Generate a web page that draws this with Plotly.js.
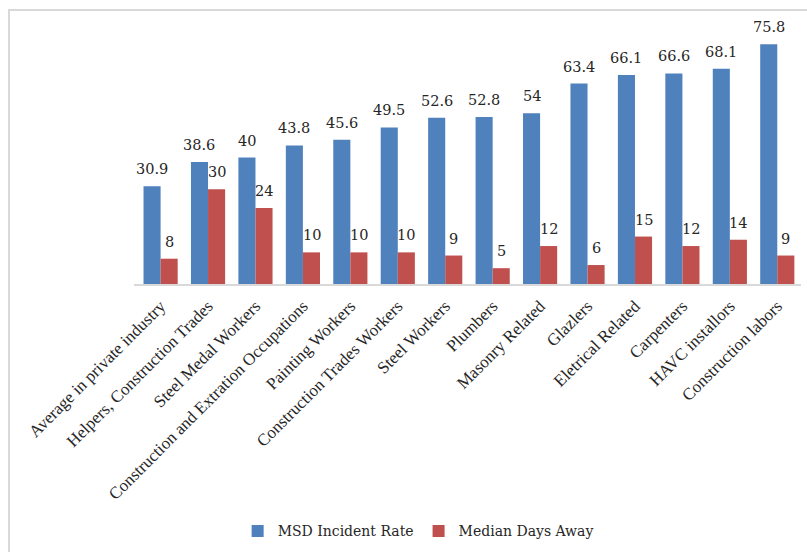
<!DOCTYPE html>
<html>
<head>
<meta charset="utf-8">
<script src="https://cdn.plot.ly/plotly-3.0.1.min.js"></script>
<style>
html,body{margin:0;padding:0;background:#fff;}
#wrap{position:relative;width:807px;height:552px;overflow:hidden;}
#chart{width:807px;height:552px;}
#frame{position:absolute;left:8px;top:9px;width:900px;height:700px;border:2px solid #d9d9d9;pointer-events:none;}
</style>
</head>
<body>
<div id="wrap"><div id="chart"></div><div id="frame"></div></div>
<script>
const categories = [
  "Average in private industry",
  "Helpers, Construction Trades",
  "Steel Medal Workers",
  "Construction and Extration Occupations",
  "Painting Workers",
  "Construction Trades Workers",
  "Steel Workers",
  "Plumbers",
  "Masonry Related",
  "Glazlers",
  "Eletrical Related",
  "Carpenters",
  "HAVC installors",
  "Construction labors"
];
const msdIncidentRate = [30.9, 38.6, 40, 43.8, 45.6, 49.5, 52.6, 52.8, 54, 63.4, 66.1, 66.6, 68.1, 75.8];
const medianDaysAway = [8, 30, 24, 10, 10, 10, 9, 5, 12, 6, 15, 12, 14, 9];
const seriesNames = ["MSD Incident Rate", "Median Days Away"];
const colors = ["#4F81BD", "#C0504D"];

const font = "Liberation Serif";
const labelFont = "DejaVu Serif";
const traces = [
  {type: "bar", name: seriesNames[0], x: categories, y: msdIncidentRate, marker: {color: colors[0]}},
  {type: "bar", name: seriesNames[1], x: categories, y: medianDaysAway, marker: {color: colors[1]}}
];

const annotations = [];
[msdIncidentRate, medianDaysAway].forEach((vals, s) => {
  vals.forEach((v, i) => {
    annotations.push({
      x: categories[i], y: v, xref: "x", yref: "y",
      text: String(v), showarrow: false,
      xshift: s === 0 ? -8.6 : 8.6, yshift: 17, yanchor: "middle",
      font: {family: labelFont, size: 14.5, color: "#262626"}
    });
  });
});

const layout = {
  width: 807, height: 552,
  margin: {l: 134, r: 6, t: 31, b: 267},
  paper_bgcolor: "#ffffff", plot_bgcolor: "#ffffff",
  barmode: "group", bargap: 0.28, bargroupgap: 0,
  font: {family: font, size: 16, color: "#262626"},
  xaxis: {
    type: "category", tickangle: -45, showgrid: false, zeroline: false,
    showline: true, linecolor: "#d9d9d9", linewidth: 1.5,
    ticks: "", ticklabelstandoff: 4, tickfont: {family: font, size: 17, color: "#262626"}
  },
  yaxis: {range: [0, 80], visible: false, showgrid: false, zeroline: false},
  showlegend: true,
  legend: {
    orientation: "h", x: 0.426, xanchor: "center", y: -0.97, yanchor: "middle",
    font: {family: labelFont, size: 14, color: "#262626"}, itemwidth: 30, traceorder: "normal"
  },
  annotations: annotations
};

Plotly.newPlot("chart", traces, layout, {displayModeBar: false, staticPlot: true});
</script>
</body>
</html>
